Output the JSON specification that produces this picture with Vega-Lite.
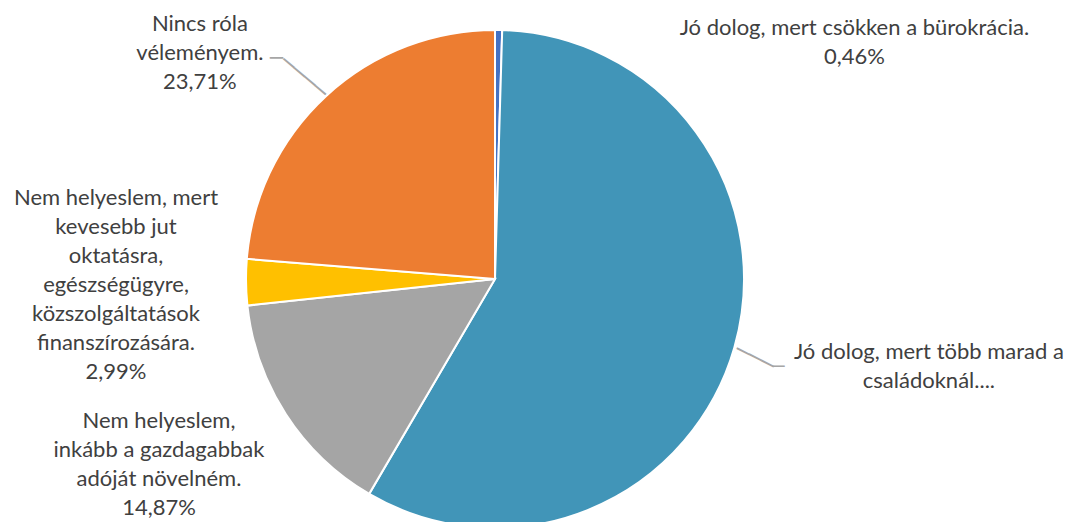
{
  "$schema": "https://vega.github.io/schema/vega-lite/v6.json",
  "width": 990,
  "height": 486,
  "autosize": {"type": "none"},
  "padding": {"left": 0, "top": 36, "right": 83, "bottom": 0},
  "background": "white",
  "config": {"view": {"stroke": null}},
  "data": {
    "values": [
      {"ord": 1, "cat": "Jó dolog, mert csökken a bürokrácia.", "value": 0.46, "label": "Jó dolog, mert csökken a bürokrácia.\n0,46%"},
      {"ord": 2, "cat": "Jó dolog, mert több marad a családoknál....", "value": 57.97, "label": "Jó dolog, mert több marad a\ncsaládoknál...."},
      {"ord": 3, "cat": "Nem helyeslem, inkább a gazdagabbak adóját növelném.", "value": 14.87, "label": "Nem helyeslem,\ninkább a gazdagabbak\nadóját növelném.\n14,87%"},
      {"ord": 4, "cat": "Nem helyeslem, mert kevesebb jut oktatásra, egészségügyre, közszolgáltatások finanszírozására.", "value": 2.99, "label": "Nem helyeslem, mert\nkevesebb jut\noktatásra,\negészségügyre,\nközszolgáltatások\nfinanszírozására.\n2,99%"},
      {"ord": 5, "cat": "Nincs róla véleményem.", "value": 23.71, "label": "Nincs róla\nvéleményem.\n23,71%"}
    ]
  },
  "encoding": {
    "theta": {"field": "value", "type": "quantitative", "stack": true},
    "order": {"field": "ord", "type": "quantitative"}
  },
  "layer": [
    {
      "mark": {"type": "arc", "radius": 249, "stroke": "white", "strokeWidth": 2},
      "encoding": {
        "color": {
          "field": "cat",
          "type": "nominal",
          "scale": {
            "domain": ["Jó dolog, mert csökken a bürokrácia.", "Jó dolog, mert több marad a családoknál....", "Nem helyeslem, inkább a gazdagabbak adóját növelném.", "Nem helyeslem, mert kevesebb jut oktatásra, egészségügyre, közszolgáltatások finanszírozására.", "Nincs róla véleményem."],
            "range": ["#4472C4", "#4195B8", "#A5A5A5", "#FFC000", "#ED7D31"]
          },
          "legend": null
        }
      }
    },
    {
      "mark": {"type": "text", "radius": 237, "dx": 356, "dy": -14.5, "font": "Lato", "fontSize": 22, "lineHeight": 29, "lineBreak": "\n", "fill": "#404040", "align": "center", "baseline": "middle"},
      "encoding": {"text": {"condition": {"test": "datum.ord === 1", "field": "label", "type": "nominal"}, "value": ""}}
    },
    {
      "mark": {"type": "text", "radius": 441, "dx": 10, "dy": -49, "font": "Lato", "fontSize": 22, "lineHeight": 29, "lineBreak": "\n", "fill": "#404040", "align": "center", "baseline": "middle"},
      "encoding": {"text": {"condition": {"test": "datum.ord === 2", "field": "label", "type": "nominal"}, "value": ""}}
    },
    {
      "mark": {"type": "text", "radius": 383, "dx": -14.4, "dy": -65.5, "font": "Lato", "fontSize": 22, "lineHeight": 29, "lineBreak": "\n", "fill": "#404040", "align": "center", "baseline": "middle"},
      "encoding": {"text": {"condition": {"test": "datum.ord === 3", "field": "label", "type": "nominal"}, "value": ""}}
    },
    {
      "mark": {"type": "text", "radius": 379, "dx": 0, "dy": -86, "font": "Lato", "fontSize": 22, "lineHeight": 29, "lineBreak": "\n", "fill": "#404040", "align": "center", "baseline": "middle"},
      "encoding": {"text": {"condition": {"test": "datum.ord === 4", "field": "label", "type": "nominal"}, "value": ""}}
    },
    {
      "mark": {"type": "text", "radius": 366, "dx": -47, "dy": 14, "font": "Lato", "fontSize": 22, "lineHeight": 29, "lineBreak": "\n", "fill": "#404040", "align": "center", "baseline": "middle"},
      "encoding": {"text": {"condition": {"test": "datum.ord === 5", "field": "label", "type": "nominal"}, "value": ""}}
    },
    {
      "mark": {"type": "text", "radius": 272, "angle": 26.6, "dx": 0.5, "dy": 4.4, "font": "DejaVu Sans Mono", "fontSize": 22.6, "fill": "#A6A6A6", "align": "center", "baseline": "middle"},
      "encoding": {"text": {"condition": {"test": "datum.ord === 2", "value": "───"}, "value": ""}}
    },
    {
      "mark": {"type": "text", "radius": 297, "dx": -1.7, "dy": 6.4, "font": "DejaVu Sans Mono", "fontSize": 19, "fill": "#A6A6A6", "align": "center", "baseline": "middle"},
      "encoding": {"text": {"condition": {"test": "datum.ord === 2", "value": "─"}, "value": ""}}
    },
    {
      "mark": {"type": "text", "radius": 278, "angle": 40.4, "dx": -0.2, "dy": 3.6, "font": "DejaVu Sans Mono", "fontSize": 22.9, "fill": "#A6A6A6", "align": "center", "baseline": "middle"},
      "encoding": {"text": {"condition": {"test": "datum.ord === 5", "value": "────"}, "value": ""}}
    },
    {
      "mark": {"type": "text", "radius": 310, "dx": -8.4, "dy": 8.2, "font": "DejaVu Sans Mono", "fontSize": 21.6, "fill": "#A6A6A6", "align": "center", "baseline": "middle"},
      "encoding": {"text": {"condition": {"test": "datum.ord === 5", "value": "─"}, "value": ""}}
    }
  ]
}
